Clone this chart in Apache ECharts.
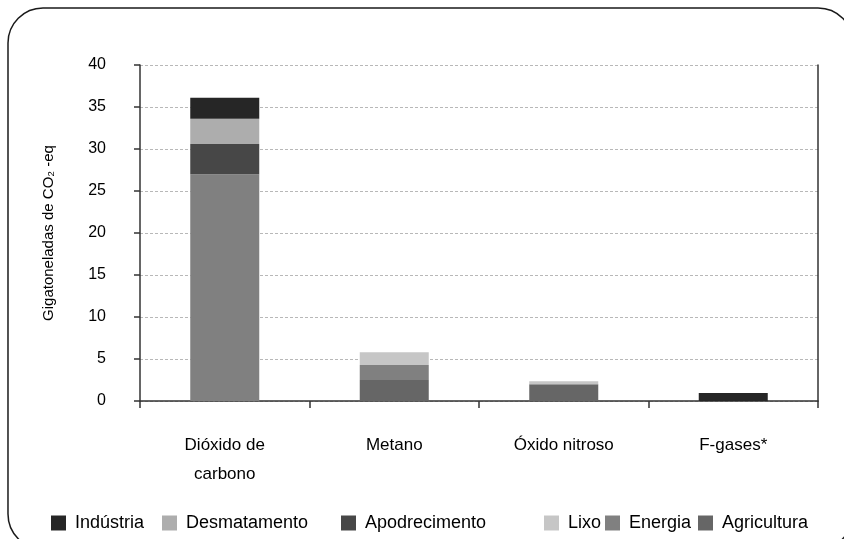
<!DOCTYPE html>
<html><head><meta charset="utf-8">
<script src="https://cdn.jsdelivr.net/npm/echarts@6/dist/echarts.min.js"></script>
<style>html,body{margin:0;padding:0;background:#fff}#c{width:844px;height:539px}</style>
</head><body><div id="c"></div>
<script>
var categories = ['Dióxido de\ncarbono', 'Metano', 'Óxido nitroso', 'F-gases*'];
var agricultura   = [0, 2.5, 2.0, 0];
var energia       = [27.0, 1.8, 0, 0];
var apodrecimento = [3.6, 0, 0, 0];
var lixo          = [0, 1.5, 0.35, 0];
var desmatamento  = [3.0, 0, 0, 0];
var industria     = [2.5, 0, 0, 0.95];
var yTicks = [0, 5, 10, 15, 20, 25, 30, 35, 40];

var font = 'Liberation Sans';
var seriesDefs = [
  {name: 'Agricultura', data: agricultura, color: '#666666'},
  {name: 'Energia', data: energia, color: '#808080'},
  {name: 'Apodrecimento', data: apodrecimento, color: '#474747'},
  {name: 'Lixo', data: lixo, color: '#c6c6c6'},
  {name: 'Desmatamento', data: desmatamento, color: '#adadad'},
  {name: 'Indústria', data: industria, color: '#262626'}
];
var legendPos = {'Indústria': 46, 'Desmatamento': 157, 'Apodrecimento': 336, 'Lixo': 539, 'Energia': 600, 'Agricultura': 693};

var chart = echarts.init(document.getElementById('c'), null, {renderer: 'canvas'});
var legends = seriesDefs.map(function (s) {
  return {
    data: [s.name], left: legendPos[s.name], top: 509, itemWidth: 15, itemHeight: 15, itemGap: 0,
    icon: 'rect', textStyle: {fontFamily: font, fontSize: 18, color: '#000', padding: [0, 0, 0, 4]},
    selectedMode: false
  };
});
chart.setOption({
  animation: false,
  backgroundColor: '#fff',
  graphic: [{
    type: 'rect', shape: {x: 8, y: 8, width: 845, height: 541, r: 35},
    style: {fill: 'none', stroke: '#1a1a1a', lineWidth: 1.5}, silent: true
  }],
  legend: legends,
  grid: {left: 140, right: 26, top: 65, bottom: 138},
  xAxis: {
    type: 'category', data: categories,
    axisLine: {lineStyle: {color: '#333', width: 1.5}},
    axisTick: {show: true, length: 7, lineStyle: {color: '#333', width: 1.5}},
    axisLabel: {fontFamily: font, fontSize: 17, color: '#000', margin: 30, lineHeight: 29}
  },
  yAxis: [{
    type: 'value', min: 0, max: 40, interval: 5,
    name: 'Gigatoneladas de CO₂ -eq', nameLocation: 'middle', nameGap: 84,
    nameTextStyle: {fontFamily: font, fontSize: 15, color: '#000'},
    axisLine: {show: true, lineStyle: {color: '#333', width: 1.5}},
    axisTick: {show: true, inside: false, length: 6, lineStyle: {color: '#333', width: 1.5}},
    axisLabel: {fontFamily: font, fontSize: 16, color: '#000', margin: 34,
      formatter: function (v) { return yTicks.indexOf(v) >= 0 ? String(v) : ''; }},
    splitLine: {show: true, lineStyle: {color: '#b8b8b8', type: [3, 2], width: 1}}
  }, {
    type: 'value', min: 0, max: 40, interval: 5, position: 'right',
    axisLine: {show: true, lineStyle: {color: '#333', width: 1.5}},
    axisTick: {show: false}, axisLabel: {show: false}, splitLine: {show: false}
  }],
  series: seriesDefs.map(function (s) {
    return {
      name: s.name, type: 'bar', stack: 'total', data: s.data, barWidth: 69,
      itemStyle: {color: s.color}
    };
  })
});
</script></body></html>
